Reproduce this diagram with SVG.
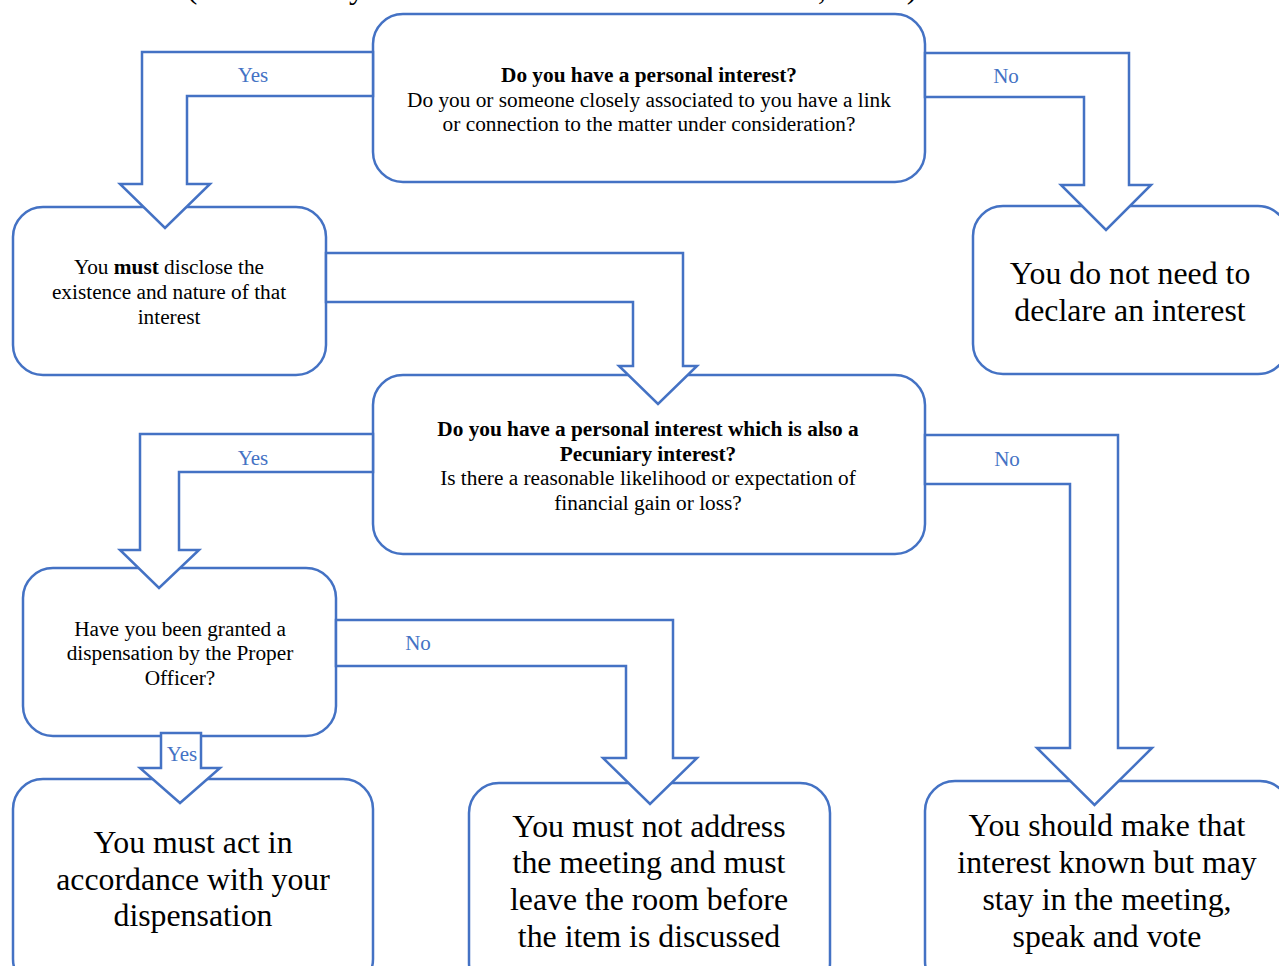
<svg xmlns="http://www.w3.org/2000/svg" width="1279" height="966" viewBox="0 0 1279 966">
<style>
.box{fill:#fff;stroke:#4472C4;stroke-width:2.5}
.arr{fill:#fff;stroke:#4472C4;stroke-width:2.5;stroke-linejoin:miter}
text{font-family:"Liberation Serif","Times New Roman",serif;fill:#000;text-anchor:middle}
.s{font-size:21.3px}
.b{font-weight:bold}
.l{font-size:31.8px}
.lab{font-size:21px;fill:#4472C4}
</style>
<rect width="1279" height="966" fill="#fff"/>
<g id="top-fragment" class="l">
<text x="192" y="-2">(</text>
<text x="357" y="-2">y</text>
<text x="822" y="-1">,</text>
<text x="912" y="-2">)</text>
</g>
<g id="n1">
<rect class="box" x="373" y="14" width="552" height="168" rx="30"/>
<text class="s b" x="649" y="82">Do you have a personal interest?</text>
<text class="s" x="649" y="106.5">Do you or someone closely associated to you have a link</text>
<text class="s" x="649" y="131">or connection to the matter under consideration?</text>
</g>
<g id="n2">
<rect class="box" x="13" y="207" width="313" height="168" rx="30"/>
<text class="s" x="169" y="274">You <tspan font-weight="bold">must</tspan> disclose the</text>
<text class="s" x="169" y="299">existence and nature of that</text>
<text class="s" x="169" y="324">interest</text>
</g>
<g id="n3">
<rect class="box" x="973" y="206" width="315" height="168" rx="30"/>
<text class="l" x="1130" y="284">You do not need to</text>
<text class="l" x="1130" y="321">declare an interest</text>
</g>
<g id="n4">
<rect class="box" x="373" y="375" width="552" height="179" rx="30"/>
<text class="s b" x="648" y="436">Do you have a personal interest which is also a</text>
<text class="s b" x="648" y="461">Pecuniary interest?</text>
<text class="s" x="648" y="485">Is there a reasonable likelihood or expectation of</text>
<text class="s" x="648" y="510">financial gain or loss?</text>
</g>
<g id="n5">
<rect class="box" x="23" y="568" width="313" height="168" rx="30"/>
<text class="s" x="180" y="636">Have you been granted a</text>
<text class="s" x="180" y="660">dispensation by the Proper</text>
<text class="s" x="180" y="685">Officer?</text>
</g>
<g id="n6">
<rect class="box" x="13" y="779" width="360" height="210" rx="30"/>
<text class="l" x="193" y="853">You must act in</text>
<text class="l" x="193" y="890">accordance with your</text>
<text class="l" x="193" y="926">dispensation</text>
</g>
<g id="n7">
<rect class="box" x="469" y="783" width="361" height="210" rx="30"/>
<text class="l" x="649" y="837">You must not address</text>
<text class="l" x="649" y="873">the meeting and must</text>
<text class="l" x="649" y="910">leave the room before</text>
<text class="l" x="649" y="947">the item is discussed</text>
</g>
<g id="n8">
<rect class="box" x="925" y="781" width="365" height="210" rx="30"/>
<text class="l" x="1107" y="836">You should make that</text>
<text class="l" x="1107" y="873">interest known but may</text>
<text class="l" x="1107" y="910">stay in the meeting,</text>
<text class="l" x="1107" y="947">speak and vote</text>
</g>
<g id="connectors">
<polygon class="arr" points="373,52 142,52 142,184 120,184 165,228 210,184 187,184 187,96 373,96"/>
<text class="lab" x="253" y="82">Yes</text>
<polygon class="arr" points="925,53 1129,53 1129,185 1151,185 1106,230 1061,185 1084,185 1084,97 925,97"/>
<text class="lab" x="1006" y="83">No</text>
<polygon class="arr" points="326,253 683,253 683,366 697,366 658,404 619,366 633,366 633,302 326,302"/>
<polygon class="arr" points="373,434 140,434 140,550 120,550 159,588 199,550 179,550 179,472 373,472"/>
<text class="lab" x="253" y="465">Yes</text>
<polygon class="arr" points="925,435 1118,435 1118,748 1152,748 1094.5,805 1037,748 1070,748 1070,484 925,484"/>
<text class="lab" x="1007" y="466">No</text>
<polygon class="arr" points="336,620 673,620 673,758 697,758 650,804 603,758 626,758 626,666 336,666"/>
<text class="lab" x="418" y="650">No</text>
<polygon class="arr" points="161,733 201,733 201,768 220,768 180,803 140,768 161,768"/>
<text class="lab" x="182" y="761">Yes</text>
</g>
</svg>
